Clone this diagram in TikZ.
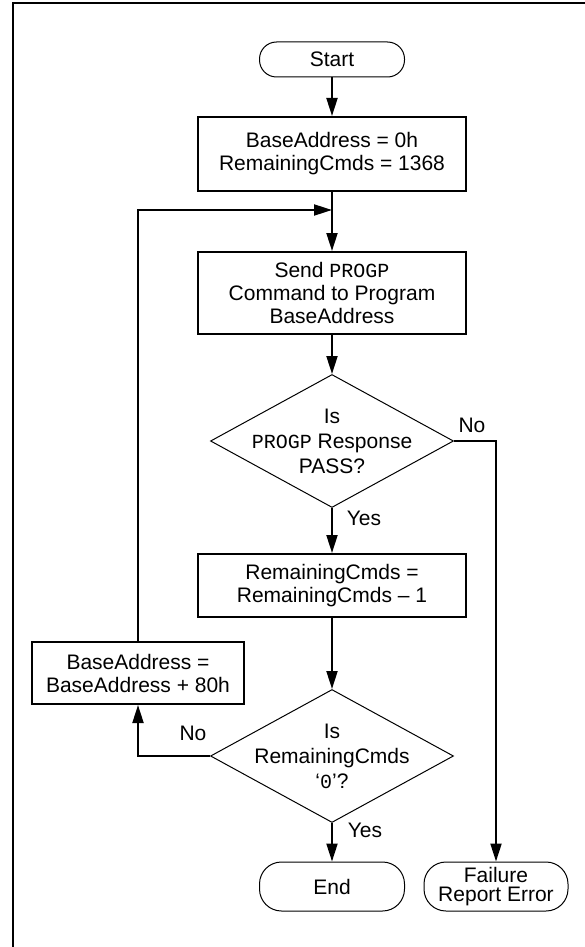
\documentclass[tikz,border=0pt]{standalone}
\usepackage{fontspec}
\setmainfont{Liberation Sans}
\newfontfamily\monofont{Liberation Mono}
\usetikzlibrary{shapes.geometric,arrows.meta}
\tikzstyle{proc} = [rectangle, draw=black, line width=2pt, minimum width=268pt, align=center, inner sep=0pt]
\tikzstyle{term} = [rectangle, draw=black, line width=1pt, minimum width=145pt, align=center, inner sep=0pt]
\tikzstyle{decision} = [diamond, draw=black, line width=1pt, minimum width=243pt, minimum height=133pt, inner sep=0pt]
\tikzstyle{flow} = [line width=2pt, -{Triangle[length=18pt,width=11pt]}]

\begin{document}
\begin{tikzpicture}[x=1pt, y=-1pt, font=\fontsize{21}{23}\selectfont]

            \useasboundingbox (0,0) rectangle (585,947);
            \draw[line width=2pt] (13,947) -- (13,3) -- (585,3);

            %% main column

            \node (start) [term, minimum height=35pt, rounded corners=17pt] at (332,59.5) {Start};
            \node (init) [proc, minimum height=74pt] at (332,154) {BaseAddress = 0h\\RemainingCmds = 1368};
            \node (send) [proc, minimum height=82pt] at (332,293) {Send {\monofont\fontsize{20}{23}\selectfont PROGP}\\Command to Program\\BaseAddress};
            \node (q1) [decision] at (332,441) {};
            \node (q1txt) [align=center, font=\fontsize{21}{25}\selectfont] at (q1) {Is\\{\monofont\fontsize{20}{25}\selectfont PROGP} Response\\PASS?};
            \node (dec) [proc, minimum height=63pt] at (332,585.5) {RemainingCmds =\\RemainingCmds -- 1};
            \node (q2) [decision] at (332,756) {};
            \node (q2txt) [align=center, font=\fontsize{21}{25}\selectfont] at (q2) {Is\\RemainingCmds\\‘{\monofont\fontsize{20}{25}\selectfont 0}’?};
            \node (stop) [term, minimum height=49pt, rounded corners=22pt] at (332,886.5) {End};

            %% side nodes

            \node (next) [proc, minimum width=212pt, minimum height=62pt] at (138,673) {BaseAddress =\\BaseAddress + 80h};
            \node (fail) [term, minimum width=144pt, minimum height=49pt, rounded corners=22pt, font=\fontsize{21}{19}\selectfont] at (496,886.5) {Failure\\Report Error};

            \coordinate (join) at (332,210);

            \draw[flow] (start) -- (init);
            \draw[flow] (init) -- (send);
            \draw[flow] (next.north) -- (next.north |- join) -- (join);
            \draw[flow] (send) -- (q1);
            \draw[flow] (q1.east) -| (fail.north);
            \draw[flow] (q1) -- (dec);
            \draw[flow] (dec) -- (q2);
            \draw[flow] (q2.west) -| (next.south);
            \draw[flow] (q2) -- (stop);

            \node (no1) at (472,425) {No};
            \node (yes1) at (364,518) {Yes};
            \node (no2) at (193,733) {No};
            \node (yes2) at (365,830) {Yes};

        \end{tikzpicture}
\end{document}
